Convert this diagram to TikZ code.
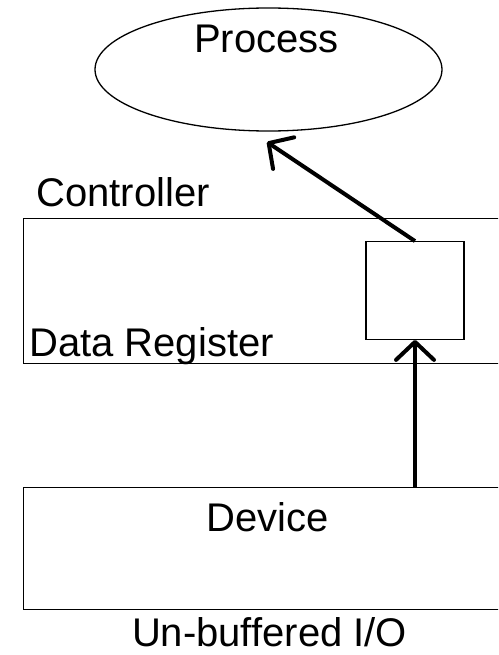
\documentclass[tikz,border=0pt]{standalone}
\usepackage{fontspec}
\setmainfont{Liberation Sans}
\usetikzlibrary{shapes.geometric,arrows.meta}

\tikzset{
  frame/.style={draw, line width=1.3pt, rectangle, inner sep=0pt},
  label/.style={inner sep=0pt, font=\fontsize{40}{48}\selectfont},
  flow/.style={line width=4pt, -{Straight Barb[round,length=18pt,width=38pt]}}
}

\begin{document}
\begin{tikzpicture}[x=1pt,y=-1pt]
  \useasboundingbox (0,0) rectangle (498,655);
  \clip (0,0) rectangle (498,655);

  % process ellipse
  \node[ellipse, draw, line width=1.3pt, minimum width=347pt, minimum height=123pt, inner sep=0pt]
    (proc) at (268.5,69.5) {};
  \node[label, anchor=base] (proctext) at (266.5,53) {Process};

  % controller with its data register
  \node[frame, anchor=north west, minimum width=497pt, minimum height=145.5pt] (ctrl) at (23,217.5) {};
  \node[label, anchor=base west] (ctrltext) at (36,206) {Controller};
  \node[label, anchor=base west] (regtext) at (29,356) {Data Register};
  \node[frame, minimum width=98pt, minimum height=97.5pt] (reg) at (415,290.5) {};

  % device
  \node[frame, anchor=north west, minimum width=497pt, minimum height=121.5pt] (dev) at (23,487) {};
  \node[label, anchor=base] (devtext) at (268,531) {Device};

  % caption
  \node[label, anchor=base] (caption) at (269.5,646) {Un-buffered I/O};

  % data flow
  \coordinate (ptip) at (267,142);
  \draw[flow] (reg.north) -- (ptip);
  \draw[flow] (reg.south |- dev.north) -- (reg.south);
\end{tikzpicture}
\end{document}
